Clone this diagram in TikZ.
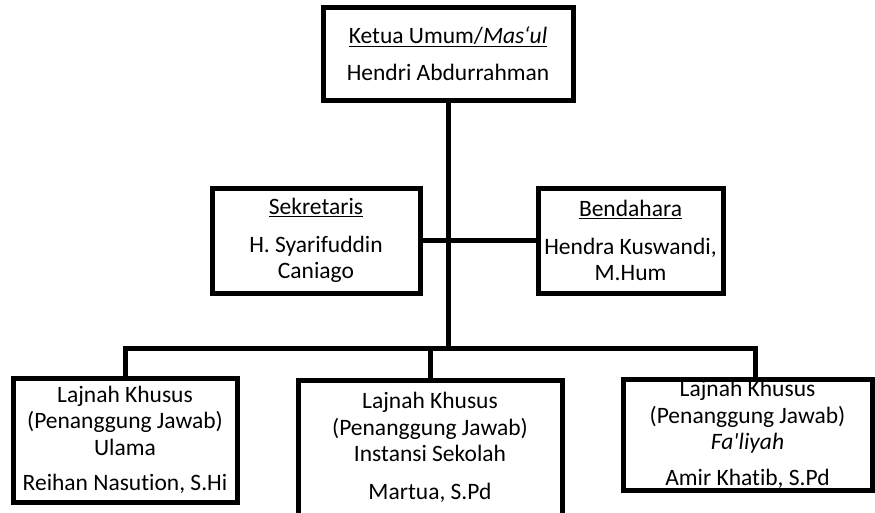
\documentclass[tikz,border=0pt]{standalone}
\usepackage{fontspec}
\setmainfont[Ligatures=NoCommon]{Carlito}
\tikzset{
    unit/.style={draw, line width=5pt, inner sep=0pt, fill=white},
    txt/.style={align=center, inner sep=0pt, font=\fontsize{23.5}{26.5}\selectfont},
    link/.style={line width=5pt}
}
\begin{document}
\begin{tikzpicture}[x=1pt, y=-1pt]
    \useasboundingbox (0,0) rectangle (875,512);
    \clip (0,0) rectangle (875,512);
    % Connectors
    \coordinate (busl) at (125,348);
    \coordinate (busr) at (755,348);
    % Ketua
    \node[unit, minimum width=250pt, minimum height=93pt] (ketua) at (448,53.5) {};
    \node[txt] (ketuatxt) at (ketua) {\underline{Ketua Umum/\textit{Mas‘ul}}\\[10.5pt] Hendri Abdurrahman};
    % Sekretaris and Bendahara
    \node[unit, minimum width=208pt, minimum height=105pt] (sekretaris) at (316,240.5) {};
    \node[txt] (sekretaristxt) at (sekretaris) {\underline{Sekretaris}\\[11pt] H. Syarifuddin\\ Caniago};
    \node[unit, minimum width=185pt, minimum height=105pt] (bendahara) at (630.5,240.5) {};
    \node[txt] (bendaharatxt) at (bendahara) {\underline{Bendahara}\\[11pt] Hendra Kuswandi,\\ M.Hum};
    % Lajnah Khusus
    \node[unit, minimum width=224pt, minimum height=124pt] (ulama) at (125,440) {};
    \node[txt] (ulamatxt) at (ulama) {Lajnah Khusus\\ (Penanggung Jawab)\\ Ulama\\[9pt] Reihan Nasution, S.Hi};
    \node[unit, minimum width=264pt, minimum height=135pt] (sekolah) at (430,447.5) {};
    \node[txt] (sekolahtxt) at (sekolah) {Lajnah Khusus\\ (Penanggung Jawab)\\ Instansi Sekolah\\[11pt] Martua, S.Pd};
    \node[unit, minimum width=249pt, minimum height=111pt] (faliyah) at (747.5,434.5) {};
    \node[txt] (faliyahtxt) at (faliyah) {Lajnah Khusus\\ (Penanggung Jawab)\\ \textit{Fa\textquotesingle liyah}\\[9pt] Amir Khatib, S.Pd};
    % Lines
    \draw[link] (ketua.south) -- (ketua.south |- busr);
    \draw[link] (sekretaris.east) -- (bendahara.west);
    \draw[link] (ulama.north) -- (busl) -- (busr) -- (busr |- faliyah.north);
    \draw[link] (sekolah.north) -- (sekolah.north |- busr);
\end{tikzpicture}
\end{document}
